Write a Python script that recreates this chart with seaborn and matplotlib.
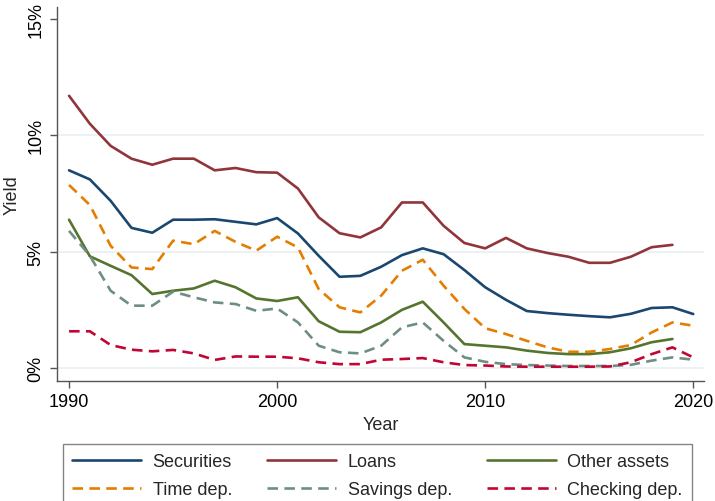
import numpy as np
import pandas as pd
import matplotlib
matplotlib.use("Agg")
import matplotlib.pyplot as plt
import seaborn as sns

years = list(range(1990, 2021))
securities = [8.5, 8.11, 7.19, 6.03, 5.82, 6.38, 6.38, 6.40, 6.29, 6.18, 6.45, 5.79, 4.83, 3.93, 3.97,
              4.36, 4.86, 5.15, 4.90, 4.22, 3.48, 2.94, 2.46, 2.37, 2.30, 2.24, 2.19, 2.34, 2.59, 2.62, 2.33]
loans = [11.7, 10.5, 9.55, 9.0, 8.74, 9.0, 9.0, 8.5, 8.6, 8.42, 8.4, 7.72, 6.48, 5.8, 5.62,
         6.05, 7.12, 7.12, 6.12, 5.38, 5.15, 5.6, 5.15, 4.95, 4.79, 4.53, 4.53, 4.79, 5.2, 5.3, np.nan]
other_assets = [6.38, 4.81, 4.4, 4.0, 3.19, 3.33, 3.43, 3.76, 3.48, 3.0, 2.89, 3.05, 2.02, 1.57, 1.55,
                1.97, 2.51, 2.86, 1.97, 1.04, 0.97, 0.9, 0.76, 0.66, 0.61, 0.61, 0.69, 0.86, 1.12, 1.26, np.nan]
time_dep = [7.87, 7.01, 5.26, 4.33, 4.26, 5.48, 5.33, 5.9, 5.43, 5.05, 5.65, 5.19, 3.4, 2.62, 2.4,
            3.12, 4.19, 4.66, 3.55, 2.55, 1.72, 1.47, 1.18, 0.9, 0.71, 0.71, 0.83, 1.0, 1.54, 1.97, 1.83]
savings_dep = [5.9, 4.83, 3.33, 2.69, 2.69, 3.29, 3.05, 2.83, 2.76, 2.47, 2.57, 1.97, 0.97, 0.69, 0.64,
               0.97, 1.76, 1.97, 1.18, 0.47, 0.28, 0.18, 0.14, 0.12, 0.1, 0.1, 0.1, 0.15, 0.33, 0.47, 0.37]
checking_dep = [1.59, 1.59, 1.0, 0.8, 0.73, 0.79, 0.64, 0.36, 0.51, 0.5, 0.5, 0.43, 0.26, 0.18, 0.18,
                0.37, 0.4, 0.44, 0.26, 0.14, 0.12, 0.08, 0.07, 0.07, 0.07, 0.07, 0.08, 0.26, 0.61, 0.9, 0.47]

series_names = ["Securities", "Loans", "Other assets", "Time dep.", "Savings dep.", "Checking dep."]
series_values = [securities, loans, other_assets, time_dep, savings_dep, checking_dep]
y_ticks = [0, 5, 10, 15]
y_tick_labels = ["0%", "5%", "10%", "15%"]
x_ticks = [1990, 2000, 2010, 2020]

colors = {"Securities": "#1a476f", "Loans": "#90353b", "Other assets": "#55752f",
          "Time dep.": "#e37e00", "Savings dep.": "#6e8e84", "Checking dep.": "#c10534"}
dashes = {"Securities": "", "Loans": "", "Other assets": "",
          "Time dep.": (4, 2.4), "Savings dep.": (4, 2.4), "Checking dep.": (4, 2.4)}

frames = []
for name, vals in zip(series_names, series_values):
    frames.append(pd.DataFrame({"Year": years, "Yield": vals, "Series": name}))
df = pd.concat(frames, ignore_index=True)

sns.set_theme(style="white")
plt.rcParams["font.family"] = ["Liberation Sans", "DejaVu Sans"]
plt.rcParams["font.size"] = 13

fig = plt.figure(figsize=(7.15, 5.02), dpi=100)
ax = fig.add_axes([0.0797, 0.2397, 0.9053, 0.7443])

sns.lineplot(data=df, x="Year", y="Yield", hue="Series", style="Series",
             hue_order=series_names, style_order=series_names,
             palette=colors, dashes=dashes, linewidth=1.9, ax=ax, legend=True)

ax.set_xlim(1989.42, 2020.53)
ax.set_ylim(-0.53, 15.51)
ax.set_xticks(x_ticks)
ax.set_xticklabels([str(t) for t in x_ticks], fontsize=13)
ax.set_yticks(y_ticks)
ax.set_yticklabels(y_tick_labels, fontsize=13, rotation=90, va="center")
ax.set_xlabel("Year", fontsize=13, labelpad=4)
ax.set_ylabel("Yield", fontsize=13, labelpad=5)

for yv in y_ticks[:-1]:
    ax.axhline(yv, color="#e9f0f1", lw=1.2, zorder=0)

for s in ["top", "right"]:
    ax.spines[s].set_visible(False)
for s in ["left", "bottom"]:
    ax.spines[s].set_color("#555555")
    ax.spines[s].set_linewidth(1.0)
ax.tick_params(axis="both", direction="out", length=5, width=1.0, color="#555555",
               labelcolor="black", pad=4, bottom=True, left=True)

handles, labels = ax.get_legend_handles_labels()
ax.get_legend().remove()
lookup = dict(zip(labels, handles))
# matplotlib fills legend column-wise; order so rows read across
order = ["Securities", "Time dep.", "Loans", "Savings dep.", "Other assets", "Checking dep."]
leg = fig.legend([lookup[k] for k in order], order, loc="lower center",
                 bbox_to_anchor=(0.528, -0.016),
                 ncol=3, frameon=True, fancybox=False, fontsize=13,
                 handlelength=3.8, handletextpad=0.65, columnspacing=1.95,
                 borderpad=0.5, labelspacing=0.62, borderaxespad=0.1)
leg.get_frame().set_edgecolor("#666666")
leg.get_frame().set_linewidth(1.0)
for line in leg.get_lines():
    line.set_linewidth(1.9)

fig.savefig("out.png", dpi=100)
